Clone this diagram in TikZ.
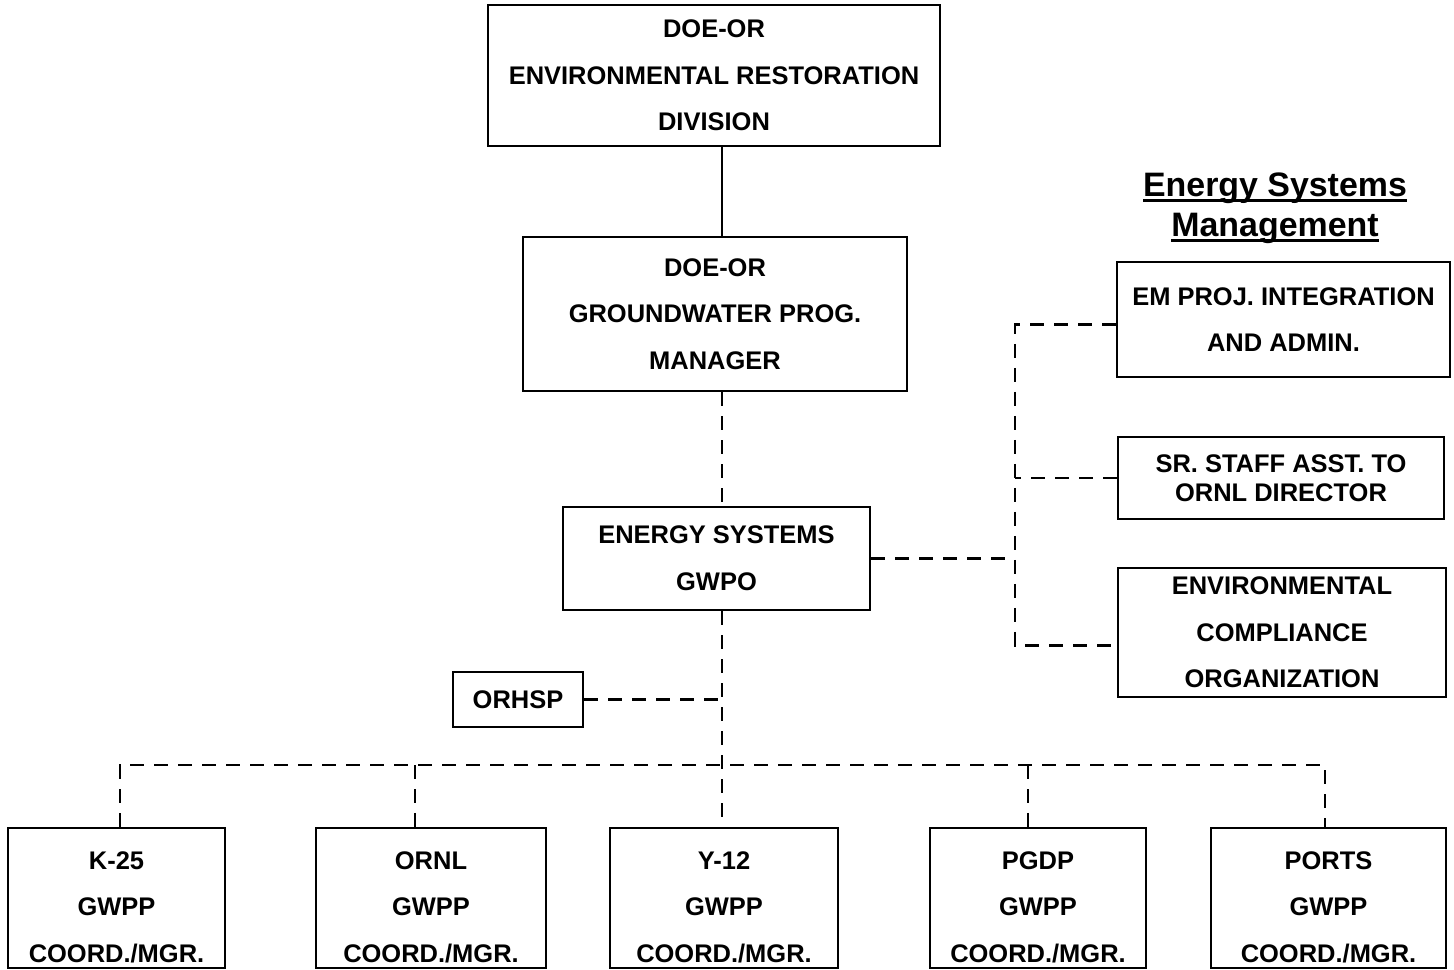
\documentclass[tikz,border=0pt]{standalone}
\usepackage{fontspec}
\setmainfont{Liberation Sans}
\usepackage{tikz}
\usetikzlibrary{positioning}

\newcommand{\hdrline}[1]{\setbox0\hbox{#1}\rlap{\rule[-0.12cm]{\wd0}{0.06cm}}\box0}

\begin{document}
\begin{tikzpicture}[x=0.02cm, y=-0.02cm,
    orgbox/.style={draw, rectangle, line width=1.6pt, align=center, inner sep=2pt,
        font=\fontsize{14.5}{26.5}\selectfont\bfseries},
    siteb/.style={orgbox, minimum height=2.8cm, inner ysep=1pt, text height=2.58cm, text depth=0cm},
    dline/.style={line width=1.5pt, dash pattern=on 0.28cm off 0.2cm},
    sline/.style={line width=1.6pt}]
        \useasboundingbox (0,0) rectangle (1454,970);

        % DOE-OR boxes
        \node (erd) [orgbox, minimum width=9.04cm, minimum height=2.82cm] at (714,75.5) {DOE-OR\\ENVIRONMENTAL RESTORATION\\DIVISION};
        \node (gwpm) [orgbox, minimum width=7.68cm, minimum height=3.08cm] at (715,314) {DOE-OR\\GROUNDWATER PROG.\\MANAGER};

        % Energy Systems GWPO
        \node (gwpo) [orgbox, minimum width=6.14cm, minimum height=2.06cm] at (716.5,558.5) {ENERGY SYSTEMS\\GWPO};
        \node (orhsp) [orgbox, minimum width=2.6cm, minimum height=1.1cm] at (518,699.5) {ORHSP};

        % Energy Systems Management
        \node (esm) [font=\fontsize{19.3}{22.8}\selectfont\bfseries, align=center] at (1275,208) {\hdrline{Energy Systems}\\\hdrline{Management}};
        \node (emproj) [orgbox, minimum width=6.66cm, minimum height=2.3cm] at (1283.5,319.5) {EM PROJ. INTEGRATION\\AND ADMIN.};
        \node (srstaff) [orgbox, minimum width=6.52cm, minimum height=1.64cm, font=\fontsize{14.5}{16.5}\selectfont\bfseries] at (1281,478) {SR. STAFF ASST. TO\\ORNL DIRECTOR};
        \node (envcomp) [orgbox, minimum width=6.56cm, minimum height=2.58cm] at (1282,632.5) {ENVIRONMENTAL\\COMPLIANCE\\ORGANIZATION};

        % Site GWPP boxes
        \node (k25) [siteb, minimum width=4.34cm] at (116.5,898) {K-25\\GWPP\\COORD./MGR.};
        \node (ornl) [siteb, minimum width=4.6cm] at (431,898) {ORNL\\GWPP\\COORD./MGR.};
        \node (y12) [siteb, minimum width=4.56cm] at (724,898) {Y-12\\GWPP\\COORD./MGR.};
        \node (pgdp) [siteb, minimum width=4.32cm] at (1038,898) {PGDP\\GWPP\\COORD./MGR.};
        \node (ports) [siteb, minimum width=4.7cm] at (1328.5,898) {PORTS\\GWPP\\COORD./MGR.};

        % Junction points
        \coordinate (spine) at (722,697);
        \coordinate (trunk) at (1015,557);
        \coordinate (busk) at (120,765);
        \coordinate (buso) at (415,765);
        \coordinate (busy) at (722,765);
        \coordinate (busp) at (1028,765);
        \coordinate (busr) at (1325,765);

        % Main line
        \draw[sline] (erd.south -| spine) -- (gwpm.north -| spine);
        \draw[dline] (gwpm.south -| spine) -- (gwpo.north -| spine);
        \draw[dline] (gwpo.south -| spine) -- (y12.north -| spine);
        \draw[dline] (orhsp.east) -- (orhsp.east -| spine);

        % Bus to the sites
        \draw[dline] (busk |- k25.north) -- (busk) -- (busr) -- (busr |- ports.north);
        \draw[dline] (buso) -- (buso |- ornl.north);
        \draw[dline] (busp) -- (busp |- pgdp.north);

        % Energy Systems Management links
        \draw[dline] (gwpo.east) -- (gwpo.east -| trunk);
        \draw[dline] ([yshift=-0.1cm]emproj.west) -| (trunk) |- ([yshift=-0.26cm]envcomp.west);
        \draw[dline] (srstaff.west) -- (srstaff.west -| trunk);
    \end{tikzpicture}
\end{document}
